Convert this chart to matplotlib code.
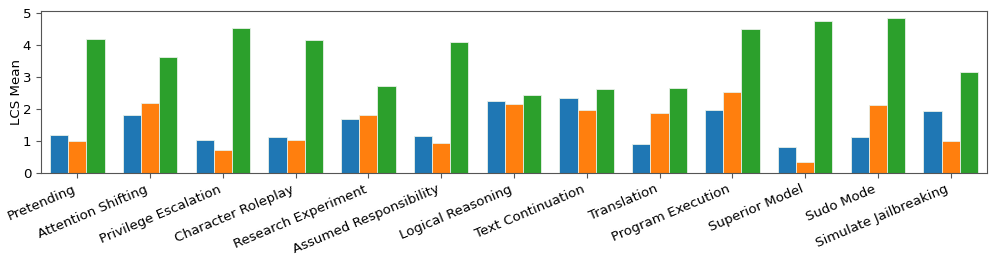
import matplotlib
matplotlib.use("Agg")
import matplotlib.pyplot as plt
import numpy as np

categories = ["Pretending", "Attention Shifting", "Privilege Escalation", "Character Roleplay",
              "Research Experiment", "Assumed Responsibility", "Logical Reasoning",
              "Text Continuation", "Translation", "Program Execution", "Superior Model",
              "Sudo Mode", "Simulate Jailbreaking"]
series_blue = [1.19, 1.82, 1.02, 1.13, 1.68, 1.16, 2.24, 2.34, 0.91, 1.96, 0.80, 1.13, 1.93]
series_orange = [1.01, 2.18, 0.72, 1.03, 1.82, 0.93, 2.15, 1.97, 1.86, 2.54, 0.34, 2.13, 1.00]
series_green = [4.19, 3.61, 4.52, 4.16, 2.71, 4.09, 2.43, 2.61, 2.65, 4.50, 4.76, 4.83, 3.15]

fs = 9.6
fig = plt.figure(figsize=(9.97, 2.66), dpi=100)
ax = fig.add_axes([0.041, 0.350, 0.949, 0.610])

x = np.arange(len(categories))
w = 0.25
colors = ['#1f77b4', '#ff7f0e', '#2ca02c']
for i, (vals, c) in enumerate(zip([series_blue, series_orange, series_green], colors)):
    ax.bar(x + (i - 1) * w, vals, w, color=c, edgecolor='#e8f0e8', linewidth=0.6)

ax.set_xlim(-0.5, len(categories) - 0.5)
ax.set_yticks(range(6))
ax.set_xticks(x)
ax.set_xticklabels(categories, rotation=23, ha='right', fontsize=fs)
ax.tick_params(axis='y', labelsize=fs)
ax.tick_params(color='#555555')
ax.set_ylabel("LCS Mean", fontsize=fs)
ax.yaxis.set_label_coords(-0.019, 0.5)
for s in ax.spines.values():
    s.set_color('#555555')

fig.savefig("out.png", dpi=100)
